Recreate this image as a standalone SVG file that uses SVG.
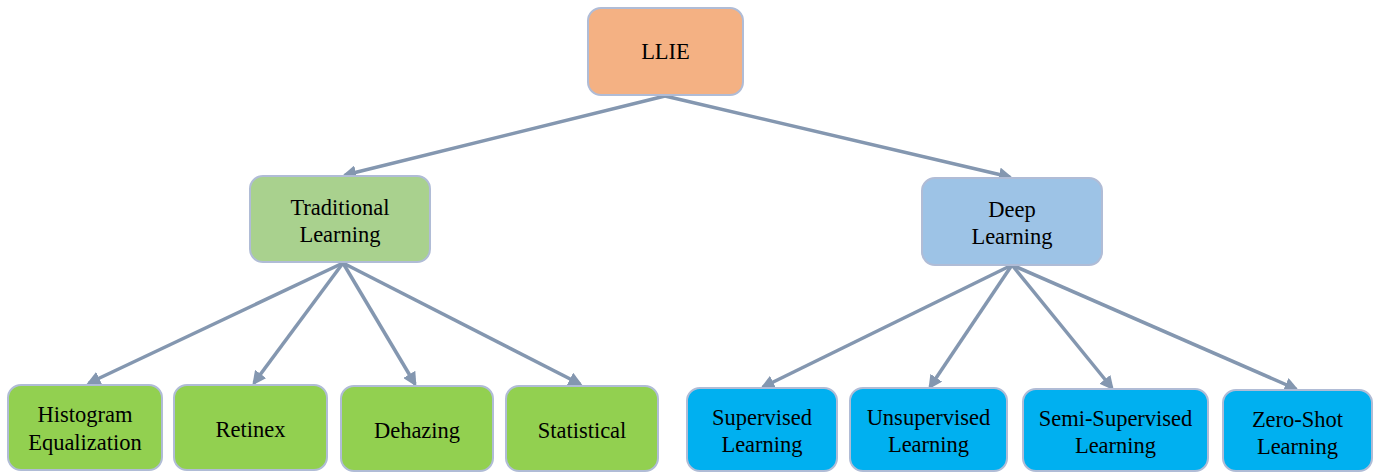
<svg xmlns="http://www.w3.org/2000/svg" width="1375" height="472" viewBox="0 0 1375 472">
<style>
.n{stroke:#B0BCD6;stroke-width:2}
.t{font-family:"Liberation Serif","Times New Roman",serif;font-size:22.5px;fill:#000;text-anchor:middle}
.c{stroke:#8497B0;stroke-width:3.5;fill:none;marker-end:url(#ah)}
</style>
<defs>
<marker id="ah" viewBox="0 0 10 10" refX="8" refY="5" markerWidth="4" markerHeight="4" orient="auto" markerUnits="strokeWidth">
<path d="M0,0 L10,5 L0,10 z" fill="#8497B0"/>
</marker>
</defs>
<rect width="1375" height="472" fill="#fff"/>
<g id="connectors">
<line class="c" x1="665" y1="96" x2="345" y2="175"/>
<line class="c" x1="665" y1="96" x2="1010" y2="177"/>
<line class="c" x1="343" y1="263" x2="89" y2="383"/>
<line class="c" x1="343" y1="263" x2="254" y2="383"/>
<line class="c" x1="343" y1="263" x2="415" y2="384"/>
<line class="c" x1="343" y1="263" x2="580" y2="384"/>
<line class="c" x1="1012" y1="265" x2="763" y2="387"/>
<line class="c" x1="1012" y1="265" x2="930" y2="387"/>
<line class="c" x1="1012" y1="265" x2="1112" y2="388"/>
<line class="c" x1="1012" y1="265" x2="1296" y2="389"/>
</g>
<g id="llie"><rect class="n" x="588" y="8" width="155" height="87" rx="13" fill="#F4B183"/><text class="t" x="665.5" y="59">LLIE</text></g>
<g id="traditional"><rect class="n" x="250" y="176" width="180" height="86" rx="13" fill="#A9D18E"/><text class="t" x="340" y="215">Traditional</text><text class="t" x="340" y="242">Learning</text></g>
<g id="deep"><rect class="n" x="922" y="178" width="180" height="87" rx="13" fill="#9DC3E6"/><text class="t" x="1012" y="217">Deep</text><text class="t" x="1012" y="244">Learning</text></g>
<g id="histogram"><rect class="n" x="8" y="385" width="154" height="85" rx="13" fill="#92D050"/><text class="t" x="85" y="422">Histogram</text><text class="t" x="85" y="450">Equalization</text></g>
<g id="retinex"><rect class="n" x="174" y="385" width="153" height="85" rx="13" fill="#92D050"/><text class="t" x="250.5" y="437">Retinex</text></g>
<g id="dehazing"><rect class="n" x="341" y="386" width="152" height="85" rx="13" fill="#92D050"/><text class="t" x="417" y="438">Dehazing</text></g>
<g id="statistical"><rect class="n" x="506" y="386" width="152" height="85" rx="13" fill="#92D050"/><text class="t" x="582" y="438">Statistical</text></g>
<g id="supervised"><rect class="n" x="687" y="388" width="150" height="83" rx="13" fill="#00B0F0"/><text class="t" x="762" y="425">Supervised</text><text class="t" x="762" y="452">Learning</text></g>
<g id="unsupervised"><rect class="n" x="850" y="388" width="157" height="83" rx="13" fill="#00B0F0"/><text class="t" x="928.5" y="425">Unsupervised</text><text class="t" x="928.5" y="452">Learning</text></g>
<g id="semisupervised"><rect class="n" x="1023" y="389" width="185" height="82" rx="13" fill="#00B0F0"/><text class="t" x="1115.5" y="426">Semi-Supervised</text><text class="t" x="1115.5" y="453">Learning</text></g>
<g id="zeroshot"><rect class="n" x="1223" y="390" width="149" height="81" rx="13" fill="#00B0F0"/><text class="t" x="1297.5" y="427">Zero-Shot</text><text class="t" x="1297.5" y="454">Learning</text></g>
</svg>
